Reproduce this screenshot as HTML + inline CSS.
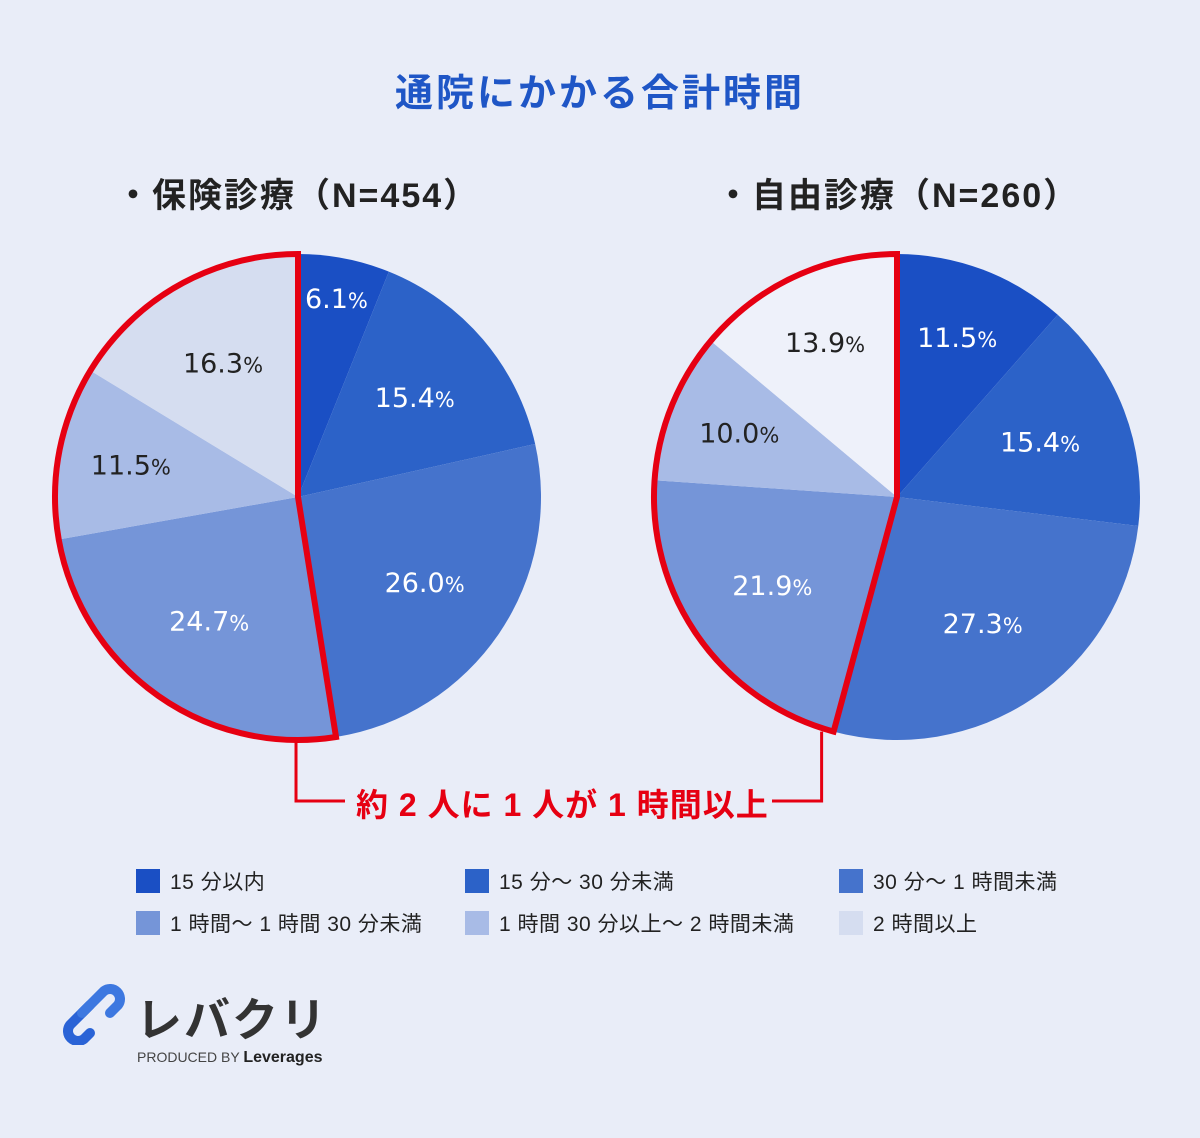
<!DOCTYPE html>
<html><head><meta charset="utf-8">
<style>
body{margin:0;width:1200px;height:1138px;background:#e9edf8;font-family:"Liberation Sans","Noto Sans CJK JP",sans-serif;overflow:hidden;position:relative}
.t{position:absolute;white-space:nowrap}
.leg{position:absolute;font-size:21px;color:#222;display:flex;align-items:center;letter-spacing:0.5px}
.leg i{display:inline-block;width:24px;height:24px;margin-right:10px}
</style></head><body>
<div class="t" style="left:0;width:1200px;text-align:center;top:62px;font-size:38px;font-weight:bold;color:#1f56c6;letter-spacing:3px">通院にかかる合計時間</div>
<div class="t" style="left:116px;top:168px;font-size:34px;font-weight:bold;color:#222;letter-spacing:2px">・保険診療（N=454）</div>
<div class="t" style="left:716px;top:168px;font-size:34px;font-weight:bold;color:#222;letter-spacing:2px">・自由診療（N=260）</div>
<svg width="1200" height="1138" style="position:absolute;left:0;top:0" id="svg"></svg>
<div class="t" style="left:356px;top:780px;font-size:32px;font-weight:bold;color:#e60012;letter-spacing:1px">約 2 人に 1 人が 1 時間以上</div>
<div class="leg" style="left:136px;top:866px"><i style="background:#1a4fc4"></i>15 分以内</div>
<div class="leg" style="left:465px;top:866px"><i style="background:#2c62c8"></i>15 分～ 30 分未満</div>
<div class="leg" style="left:839px;top:866px"><i style="background:#4573cc"></i>30 分～ 1 時間未満</div>
<div class="leg" style="left:136px;top:908px"><i style="background:#7595d8"></i>1 時間～ 1 時間 30 分未満</div>
<div class="leg" style="left:465px;top:908px"><i style="background:#a8bbe6"></i>1 時間 30 分以上～ 2 時間未満</div>
<div class="leg" style="left:839px;top:908px"><i style="background:#d5ddf0"></i>2 時間以上</div>
<svg width="80" height="70" style="position:absolute;left:52px;top:975px" viewBox="0 0 80 70">
<path d="M38 30 L18 50 a10 10 0 0 0 14 14 l6 -6" stroke="#2a63d6" stroke-width="10" fill="none" stroke-linecap="round"/>
<path d="M30 38 L52 16 a10 10 0 0 1 14 14 l-8 8" stroke="#3d78e0" stroke-width="10" fill="none" stroke-linecap="round"/>
</svg>
<div class="t" style="left:136px;top:984px;font-size:46px;font-weight:bold;color:#333;letter-spacing:2px">レバクリ</div>
<div class="t" style="left:137px;top:1049px;font-size:14px;color:#444">PRODUCED BY <b style="font-size:16px;color:#222">Leverages</b></div>
<script>
const categories=["15分以内","15分～30分未満","30分～1時間未満","1時間～1時間30分未満","1時間30分以上～2時間未満","2時間以上"];
const leftValues=[6.1,15.4,26.0,24.7,11.5,16.3];
const rightValues=[11.5,15.4,27.3,21.9,10.0,13.9];
const leftColors=["#1a4fc4","#2c62c8","#4573cc","#7595d8","#a8bbe6","#d5ddf0"];
const rightColors=["#1a4fc4","#2c62c8","#4573cc","#7595d8","#a8bbe6","#eef1fa"];
const svg=document.getElementById('svg');
const NS="http://www.w3.org/2000/svg";
function pt(cx,cy,r,f){const a=f*2*Math.PI;return [cx+r*Math.sin(a),cy-r*Math.cos(a)];}
function drawPie(cx,cy,r,vals,cols,side){
  const tot=vals.reduce((a,b)=>a+b,0);let c=0;
  vals.forEach((v,i)=>{
    const f0=c/tot,f1=(c+v)/tot;c+=v;
    const p0=pt(cx,cy,r,f0),p1=pt(cx,cy,r,f1);
    const p=document.createElementNS(NS,'path');
    p.setAttribute('d',`M${cx},${cy}L${p0[0]},${p0[1]}A${r},${r} 0 ${f1-f0>0.5?1:0} 1 ${p1[0]},${p1[1]}Z`);
    p.setAttribute('fill',cols[i]);
    
    
    svg.appendChild(p);
  });
  c=0;
  vals.forEach((v,i)=>{
    const fm=(c+v/2)/tot;c+=v;
    const lr=v<10?0.83:(v<15?0.7:0.63);
    const q=pt(cx,cy,r*lr,fm);
    const t=document.createElementNS(NS,'text');
    t.setAttribute('x',q[0]);t.setAttribute('y',q[1]+9);
    t.setAttribute('text-anchor','middle');
    t.setAttribute('font-size','27');
    t.setAttribute('fill',i>=4?'#222':'#fff');
    t.setAttribute('font-family','"DejaVu Sans",sans-serif');
    t.innerHTML=v.toFixed(1)+'<tspan font-size="21">%</tspan>';
    
    
    svg.appendChild(t);
  });
  const s=vals.slice(0,3).reduce((a,b)=>a+b,0)/tot;
  const ps=pt(cx,cy,r,s);
  const o=document.createElementNS(NS,'path');
  o.setAttribute('d',`M${cx},${cy}L${ps[0]},${ps[1]}A${r},${r} 0 ${1-s>0.5?1:0} 1 ${cx},${cy-r}Z`);
  o.setAttribute('fill','none');o.setAttribute('stroke','#e60012');o.setAttribute('stroke-width','6');o.setAttribute('stroke-linejoin','miter');
  
  
  svg.appendChild(o);
  return ps;
}
const lp=drawPie(298,497,243,leftValues,leftColors,'left');
const rp=drawPie(897,497,243,rightValues,rightColors,'right');
function line(d,name){const l=document.createElementNS(NS,'path');l.setAttribute('d',d);l.setAttribute('fill','none');l.setAttribute('stroke','#e60012');l.setAttribute('stroke-width','3');


svg.appendChild(l);}
line(`M${lp[0]-40},${lp[1]+3}V801H345`,'left-leader-line');
line(`M${rp[0]-12},${rp[1]}V801H772`,'right-leader-line');
</script>
</body></html>
